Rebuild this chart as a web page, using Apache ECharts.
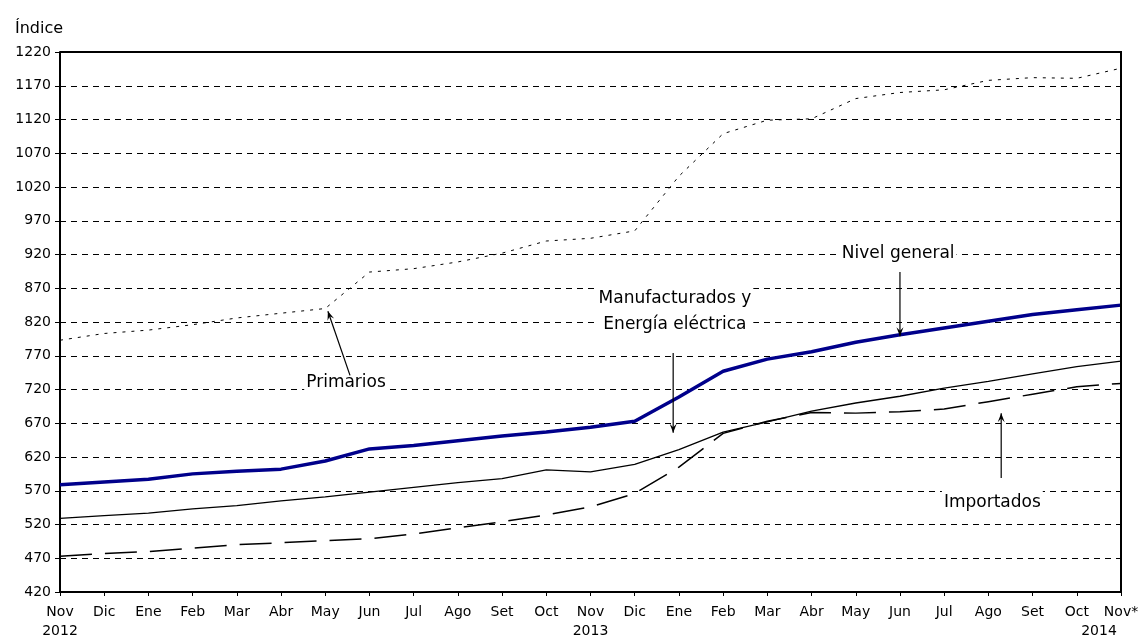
<!DOCTYPE html>
<html>
<head>
<meta charset="utf-8">
<script src="https://cdn.jsdelivr.net/npm/echarts@6/dist/echarts.min.js"></script>
<style>
html,body{margin:0;padding:0;background:#fff;}
#chart{width:1141px;height:643px;}
</style>
</head>
<body>
<div id="chart"></div>
<script>
// ---- data ----
const months = ['Nov','Dic','Ene','Feb','Mar','Abr','May','Jun','Jul','Ago','Set','Oct','Nov','Dic','Ene','Feb','Mar','Abr','May','Jun','Jul','Ago','Set','Oct','Nov*'];
const years = {0:'2012', 12:'2013', 24:'2014'};
const yTicks = [420,470,520,570,620,670,720,770,820,870,920,970,1020,1070,1120,1170,1220];
const nivelGeneral   = [579,583,587,595,599,602,614,632,637,644,651,657,664,673,709,747,765,776,790,801,811,821,831,838,845];
const manufacturados = [529,533,537,543,548,555,561,568,575,582,588,601,598,609,631,657,672,688,700,710,722,732,743,754,762];
const primarios      = [793,803,808,816,826,833,840,894,899,909,922,940,944,955,1036,1099,1119,1121,1151,1160,1164,1178,1182,1181,1196];
const importados     = [473,477,480,485,490,493,496,499,506,515,524,534,546,566,605,655,673,686,685,687,691,702,713,724,729];
// annotation anchors in data coordinates [category index, value]
const annotations = [
  {text:'Primarios', at:[6.47,730], from:[6.56,741], to:[6.06,836]},
  {text:'Manufacturados y\nEnergía eléctrica', at:[13.91,835], from:[13.87,774], to:[13.87,656]},
  {text:'Nivel general', at:[18.96,921], from:[19.0,894], to:[19.0,799]},
  {text:'Importados', at:[21.09,553], from:[21.29,589], to:[21.29,685]}
];

const FONT = 'DejaVu Sans';
const chart = echarts.init(document.getElementById('chart'), null, {renderer:'canvas'});
const option = {
  animation:false,
  backgroundColor:'#fff',
  grid:{left:60, right:20, top:52, bottom:51, show:false, containLabel:false, outerBoundsMode:'none'},
  title:{text:'Índice', left:10, top:16, textStyle:{fontFamily:FONT, fontSize:16, fontWeight:'normal', color:'#000'}},
  xAxis:{
    type:'category', data:months, boundaryGap:false,
    axisLine:{show:true, onZero:false, lineStyle:{color:'#000', width:2}},
    axisTick:{show:true, alignWithLabel:true, length:4, lineStyle:{color:'#000'}},
    axisLabel:{
      interval:0, margin:11, fontFamily:FONT, fontSize:14, color:'#000', lineHeight:19,
      formatter:function(v, i){
        if (years[i]) {
          if (i === months.length-1) return v + '\n{y2|' + years[i] + '}';
          return v + '\n' + years[i];
        }
        return v;
      },
      rich:{y2:{fontFamily:FONT, fontSize:14, color:'#000', padding:[0,44,0,0], lineHeight:19}}
    },
    splitLine:{show:false}
  },
  yAxis:{
    type:'value', min:yTicks[0], max:yTicks[yTicks.length-1], interval:50,
    axisLine:{show:true, lineStyle:{color:'#000', width:2}},
    axisTick:{show:true, length:5, lineStyle:{color:'#000'}},
    axisLabel:{fontFamily:FONT, fontSize:14, color:'#000', margin:9, formatter:function(v){return String(v);}},
    splitLine:{show:true, lineStyle:{color:'#000', type:[6,5], width:1}}
  },
  series:[
    {name:'Primarios', type:'line', data:primarios, symbol:'none', lineStyle:{color:'#000', width:1, type:[3,6]}, z:2},
    {name:'Importados', type:'line', data:importados, symbol:'none', lineStyle:{color:'#000', width:1.5, type:[32,13]}, z:3},
    {name:'Manufacturados y Energía eléctrica', type:'line', data:manufacturados, symbol:'none', lineStyle:{color:'#000', width:1.3}, z:4},
    {name:'Nivel general', type:'line', data:nivelGeneral, symbol:'none', lineStyle:{color:'#00008b', width:3.5}, z:5}
  ]
};
chart.setOption(option);

function px(p){
  const i0 = Math.min(Math.floor(p[0]), months.length-2);
  const f = p[0]-i0;
  const a = chart.convertToPixel({xAxisIndex:0, yAxisIndex:0}, [i0, p[1]]);
  const b = chart.convertToPixel({xAxisIndex:0, yAxisIndex:0}, [i0+1, p[1]]);
  return [a[0]+(b[0]-a[0])*f, a[1]];
}
const gridRect = (function(){
  const tl = chart.convertToPixel({xAxisIndex:0, yAxisIndex:0}, [0, yTicks[yTicks.length-1]]);
  const br = chart.convertToPixel({xAxisIndex:0, yAxisIndex:0}, [months.length-1, yTicks[0]]);
  return {x:tl[0], y:tl[1], w:br[0]-tl[0], h:br[1]-tl[1]};
})();
const graphics = [];
// frame top & right
graphics.push({type:'polyline', shape:{points:[[gridRect.x,gridRect.y],[gridRect.x+gridRect.w,gridRect.y],[gridRect.x+gridRect.w,gridRect.y+gridRect.h]]}, style:{stroke:'#000', lineWidth:2, fill:null}, z:10});
annotations.forEach(function(a){
  const c = px(a.at), s = px(a.from), e = px(a.to);
  graphics.push({type:'text', x:c[0], y:c[1], z:20, style:{text:a.text, fontFamily:FONT, fontSize:17, fill:'#000', align:'center', verticalAlign:'middle', backgroundColor:'#fff', padding:[0,2], lineHeight:26}});
  graphics.push({type:'line', shape:{x1:s[0], y1:s[1], x2:e[0], y2:e[1]}, style:{stroke:'#000', lineWidth:1.2}, z:20});
  const dx=e[0]-s[0], dy=e[1]-s[1], L=Math.sqrt(dx*dx+dy*dy), ux=dx/L, uy=dy/L;
  const hl=9, hw=3.5;
  graphics.push({type:'polygon', shape:{points:[[e[0],e[1]],[e[0]-ux*hl-uy*hw, e[1]-uy*hl+ux*hw],[e[0]-ux*hl*0.6, e[1]-uy*hl*0.6],[e[0]-ux*hl+uy*hw, e[1]-uy*hl-ux*hw]]}, style:{fill:'#000'}, z:20});
});
chart.setOption({graphic:graphics});
</script>
</body>
</html>
